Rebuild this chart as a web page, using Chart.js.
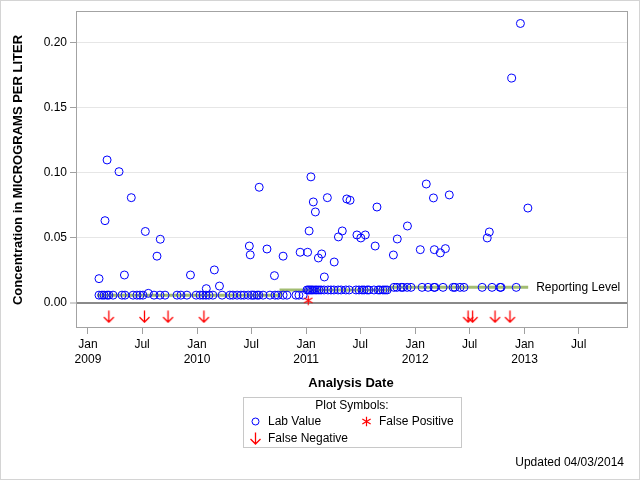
<!DOCTYPE html>
<html><head><meta charset="utf-8">
<script src="https://cdn.jsdelivr.net/npm/chart.js@4.4.1/dist/chart.umd.min.js"></script>
<style>html,body{margin:0;padding:0;background:#fff}canvas{display:block}</style>
</head><body>
<canvas id="c" width="640" height="480"></canvas>
<script>
// ---------------- DATA ----------------
const labDates = [
 '2009-02-07','2009-02-07','2009-02-17','2009-02-24','2009-02-27','2009-03-06','2009-03-06','2009-03-12','2009-03-26','2009-04-15',
 '2009-04-25','2009-05-03','2009-05-05','2009-05-26','2009-06-01','2009-06-14','2009-06-24','2009-07-04','2009-07-12','2009-07-22',
 '2009-08-10','2009-08-20','2009-08-30','2009-08-31','2009-09-16','2009-10-26','2009-11-08','2009-11-28','2009-12-10','2009-12-29',
 '2010-01-11','2010-01-21','2010-01-31','2010-02-01','2010-02-10','2010-02-23','2010-02-28','2010-03-17','2010-03-26','2010-04-21',
 '2010-05-01','2010-05-15','2010-05-28','2010-06-07','2010-06-21','2010-06-25','2010-06-28','2010-07-04','2010-07-11','2010-07-21',
 '2010-07-27','2010-07-28','2010-08-10','2010-08-23','2010-09-02','2010-09-17','2010-09-19','2010-09-29','2010-10-16','2010-10-16',
 '2010-10-29','2010-11-28','2010-12-08','2010-12-12','2010-12-22',
 '2011-01-04','2011-01-06','2011-01-09','2011-01-11','2011-01-14','2011-01-17','2011-01-19','2011-01-24','2011-01-25','2011-01-31',
 '2011-02-01','2011-02-06','2011-02-11','2011-02-13','2011-02-20','2011-02-22','2011-03-02','2011-03-03','2011-03-13','2011-03-15',
 '2011-03-25','2011-04-04','2011-04-05','2011-04-18','2011-04-19','2011-04-28','2011-05-02','2011-05-14','2011-05-17','2011-05-25',
 '2011-05-28','2011-06-17','2011-06-20','2011-06-27','2011-07-03','2011-07-07','2011-07-14','2011-07-18','2011-07-24','2011-07-30',
 '2011-08-16','2011-08-20','2011-08-26','2011-08-30','2011-09-05','2011-09-15','2011-09-22','2011-09-29','2011-10-20','2011-10-22',
 '2011-11-01','2011-11-02','2011-11-15','2011-11-21','2011-12-05','2011-12-06','2011-12-18',
 '2012-01-18','2012-01-24','2012-02-07','2012-02-13','2012-03-02','2012-03-04','2012-03-05','2012-03-07','2012-03-25','2012-04-03',
 '2012-04-11','2012-04-24','2012-05-07','2012-05-13','2012-05-30','2012-06-12','2012-08-12','2012-08-29','2012-09-05','2012-09-14',
 '2012-10-11','2012-10-14','2012-11-19','2012-12-04','2012-12-18','2013-01-12'
];
const labValues = [
 0.0187,0.006,0.006,0.006,0.0633,0.110,0.006,0.006,0.006,0.101,
 0.006,0.0215,0.006,0.081,0.006,0.006,0.006,0.006,0.055,0.0074,
 0.006,0.036,0.006,0.049,0.006,0.006,0.006,0.006,0.0215,0.006,
 0.006,0.006,0.006,0.011,0.006,0.006,0.0254,0.013,0.006,0.006,
 0.006,0.006,0.006,0.006,0.006,0.0438,0.037,0.006,0.006,0.006,
 0.006,0.089,0.006,0.0415,0.006,0.021,0.006,0.006,0.036,0.006,
 0.006,0.006,0.006,0.039,0.006,
 0.010,0.039,0.010,0.0554,0.010,0.097,0.010,0.010,0.0777,0.010,
 0.070,0.010,0.0346,0.010,0.010,0.0377,0.010,0.020,0.081,0.010,
 0.010,0.010,0.0315,0.010,0.0508,0.010,0.0554,0.010,0.080,0.010,
 0.079,0.010,0.0523,0.010,0.050,0.010,0.010,0.0523,0.010,0.010,
 0.010,0.0438,0.0738,0.010,0.010,0.010,0.010,0.010,0.0369,0.012,
 0.012,0.0492,0.012,0.012,0.012,0.0592,0.012,
 0.041,0.012,0.0915,0.012,0.0808,0.012,0.041,0.012,0.0385,0.012,
 0.0418,0.0831,0.012,0.012,0.012,0.012,0.012,0.050,0.0546,0.012,
 0.012,0.012,0.173,0.012,0.215,0.073
];
const falsePositiveDates = ['2011-01-08'];
const falsePositiveValues = [0.002];
const falseNegativeDates = ['2009-03-12','2009-07-09','2009-09-26','2010-01-24','2012-06-26','2012-07-11','2012-09-24','2012-11-13'];
const reportingDates = ['2009-01-31','2010-10-09','2011-10-09','2013-01-13'];
const reportingValues = [0.006,0.010,0.012,0.012];
const yTickValues = [0, 0.05, 0.10, 0.15, 0.20];
const xTickDates = ['2009-01-01','2009-07-01','2010-01-01','2010-07-01','2011-01-01','2011-07-01',
                    '2012-01-01','2012-07-01','2013-01-01','2013-07-01'];
const xRange = ['2008-11-22','2013-12-13'];
const yRange = [-0.0185, 0.2246];

// ---------------- STYLE / DRAW ----------------
const FONT = "'Liberation Sans', Arial, Helvetica, sans-serif";
Chart.defaults.font.family = FONT;
Chart.defaults.font.size = 12;
Chart.defaults.color = '#000';
const FN_BAND_VALUE = -0.0105; // position inside the lower band for false negatives

function makeArrow(color){
  const c = document.createElement('canvas'); c.width = 13; c.height = 13;
  const g = c.getContext('2d'); g.strokeStyle = color; g.lineWidth = 1.3;
  g.beginPath(); g.moveTo(6.5,0.5); g.lineTo(6.5,12); g.moveTo(1.5,7); g.lineTo(6.5,12); g.lineTo(11.5,7); g.stroke();
  return c;
}
function makeStar(color){
  const c = document.createElement('canvas'); c.width = 11; c.height = 11;
  const g = c.getContext('2d'); g.strokeStyle = color; g.lineWidth = 1.2;
  const cx = 5.5, cy = 5.5, r = 4.8;
  g.beginPath();
  for (const a of [90, 30, 150]) {
    const rad = a*Math.PI/180, dx = Math.cos(rad)*r, dy = Math.sin(rad)*r;
    g.moveTo(cx-dx, cy-dy); g.lineTo(cx+dx, cy+dy);
  }
  g.stroke();
  return c;
}
const arrowImg = makeArrow('#ff0000');
const starImg = makeStar('#ff0000');
const ts = d => Date.parse(d);

const deco = {
  id: 'deco',
  beforeDraw(chart){
    const ctx = chart.ctx; ctx.save(); ctx.fillStyle = '#fff'; ctx.fillRect(0,0,chart.width,chart.height); ctx.restore();
  },
  afterDraw(chart){
    const {ctx, chartArea:a} = chart;
    const xs = chart.scales.x, ys = chart.scales.y;
    ctx.save();
    // plot frame
    ctx.strokeStyle = '#a3a3a3'; ctx.lineWidth = 1;
    ctx.strokeRect(Math.round(a.left)+0.5, Math.round(a.top)+0.5, Math.round(a.right-a.left)-1, Math.round(a.bottom-a.top));
    // outer border
    ctx.strokeStyle = '#d4d4d4';
    ctx.strokeRect(0.5, 0.5, chart.width-1, chart.height-1);
    // reporting level label
    ctx.fillStyle = '#000'; ctx.font = '12px ' + FONT; ctx.textBaseline = 'middle'; ctx.textAlign = 'left';
    const li = reportingDates.length-1;
    ctx.fillText('Reporting Level', xs.getPixelForValue(ts(reportingDates[li])) + 8, ys.getPixelForValue(reportingValues[li]));
    // y title
    ctx.save();
    ctx.translate(18, (a.top + a.bottom)/2 + 1);
    ctx.rotate(-Math.PI/2);
    ctx.font = 'bold 13px ' + FONT; ctx.textAlign = 'center';
    ctx.fillText('Concentration in MICROGRAMS PER LITER', 0, 0);
    ctx.restore();
    // x title
    ctx.font = 'bold 13px ' + FONT; ctx.textAlign = 'center';
    ctx.fillText('Analysis Date', 351, 383);
    // legend
    ctx.strokeStyle = '#c8c8c8';
    ctx.strokeRect(243.5, 397.5, 218, 50);
    ctx.font = '12px ' + FONT; ctx.textAlign = 'center';
    ctx.fillText('Plot Symbols:', 352, 406);
    ctx.textAlign = 'left';
    ctx.strokeStyle = '#0000ff'; ctx.lineWidth = 1;
    ctx.beginPath(); ctx.arc(255.5, 421.5, 3.5, 0, Math.PI*2); ctx.stroke();
    ctx.fillText('Lab Value', 268, 422);
    ctx.drawImage(starImg, 361, 416);
    ctx.fillText('False Positive', 379, 422);
    ctx.drawImage(arrowImg, 249, 432);
    ctx.fillText('False Negative', 268, 439);
    ctx.textAlign = 'right';
    ctx.fillText('Updated 04/03/2014', 624, 463);
    ctx.restore();
  }
};

new Chart(document.getElementById('c'), {
  type: 'scatter',
  data: {
    datasets: [
      { label: 'Lab Value', order: 1,
        data: labDates.map((d,i)=>({x: ts(d), y: labValues[i]})),
        pointStyle: 'circle', pointRadius: 4, borderColor: '#0000ff', backgroundColor: 'rgba(0,0,0,0)', borderWidth: 1 },
      { label: 'False Positive', order: 0,
        data: falsePositiveDates.map((d,i)=>({x: ts(d), y: falsePositiveValues[i]})),
        pointStyle: starImg, pointRadius: 5 },
      { label: 'False Negative', order: 0,
        data: falseNegativeDates.map(d=>({x: ts(d), y: FN_BAND_VALUE})),
        pointStyle: arrowImg, pointRadius: 6 },
      { label: 'Reporting Level', order: 3, showLine: true, stepped: true,
        data: reportingDates.map((d,i)=>({x: ts(d), y: reportingValues[i]})),
        borderColor: '#a3bd72', borderWidth: 3, pointRadius: 0, fill: false }
    ]
  },
  options: {
    responsive: false, animation: false, events: [],
    layout: { padding: { top: 11, right: 12, left: 0, bottom: 0 } },
    plugins: { legend: { display: false }, tooltip: { enabled: false } },
    scales: {
      x: {
        type: 'linear', min: ts(xRange[0]), max: ts(xRange[1]),
        afterBuildTicks: s => { s.ticks = xTickDates.map(d => ({ value: ts(d) })); },
        afterFit: s => { s.height = 153; },
        ticks: {
          autoSkip: false, maxRotation: 0, padding: 3, color: '#000', font: { size: 12, lineHeight: 1.25 },
          callback: v => { const dt = new Date(v); return dt.getUTCMonth() === 0 ? ['Jan', String(dt.getUTCFullYear())] : 'Jul'; }
        },
        grid: { drawOnChartArea: false, drawTicks: true, tickLength: 7, tickColor: '#a0a0a0' },
        border: { display: false }
      },
      y: {
        min: yRange[0], max: yRange[1],
        afterBuildTicks: s => { s.ticks = yTickValues.map(v => ({ value: v })); },
        afterFit: s => { s.width = 76; },
        ticks: { padding: 3, color: '#000', font: { size: 12 }, callback: v => Number(v).toFixed(2) },
        grid: {
          color: c => (c.tick && c.tick.value === 0) ? '#8a8a8a' : '#e6e6e6',
          lineWidth: c => (c.tick && c.tick.value === 0) ? 2 : 1,
          tickLength: 6, tickColor: '#a0a0a0', tickWidth: 1
        },
        border: { display: false }
      }
    }
  },
  plugins: [deco]
});
</script>
</body></html>
